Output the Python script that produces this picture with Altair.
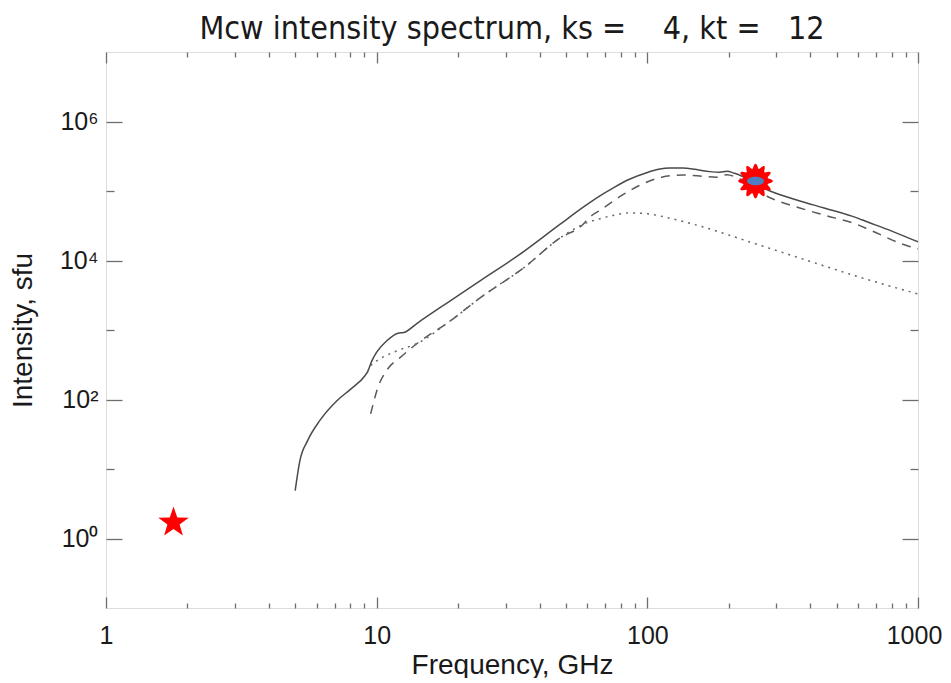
import math
import altair as alt
import pandas as pd

# ---------------- data ----------------
title_text = "Mcw intensity spectrum, ks =\u00a0\u00a0\u00a0 4, kt =\u00a0\u00a0 12"

total_f = [5.0, 5.2, 5.57, 6.17, 7.13, 8.0, 9.05, 9.25, 9.6, 10.0, 10.9, 12.0, 12.6,
           14.1, 18.7, 24.1, 35.0, 47.5, 57.8, 66.8, 74.6, 85.0, 100.0, 110.0, 121.0,
           135.0, 150.0, 170.0, 185.0, 197.0, 210.0, 284.0, 366.0, 450.0, 595.0, 620.0,
           800.0, 1000.0]
total_i = [4.9, 13.0, 26.0, 50.0, 96.0, 140.0, 220.0, 250.0, 360.0, 480.0, 700.0, 900.0, 920.0,
           1250.0, 2630.0, 5100.0, 13500.0, 33000.0, 58000.0, 85000.0, 110000.0, 145000.0,
           185000.0, 205000.0, 215000.0, 214000.0, 205000.0, 190000.0, 186000.0, 192000.0,
           180000.0, 100000.0, 72000.0, 57000.0, 41000.0, 38500.0, 26500.0, 18500.0]

gyro_f = [9.5, 10.1, 11.0, 12.2, 14.1, 18.7, 24.1, 35.0, 47.5, 57.8, 60.4, 68.0, 80.7, 93.0,
          113.0, 135.0, 163.0, 180.0, 197.0, 215.0, 284.0, 366.0, 450.0, 595.0, 664.0,
          918.0, 1000.0]
gyro_i = [62.0, 148.0, 277.0, 400.0, 640.0, 1350.0, 2900.0, 7900.0, 21000.0, 33000.0, 40000.0,
          55000.0, 87000.0, 119000.0, 158000.0, 170000.0, 162000.0, 158000.0, 172000.0,
          155000.0, 80000.0, 57000.0, 45000.0, 33000.0, 27500.0, 16200.0, 14800.0]

ff_f = [9.25, 9.4, 10.0, 11.0, 11.9, 14.1, 18.7, 24.1, 35.0, 47.5, 57.8, 66.8, 74.6, 86.0,
        100.0, 120.0, 156.0, 239.0, 400.0, 600.0, 1000.0]
ff_i = [250.0, 286.0, 360.0, 440.0, 503.0, 640.0, 1350.0, 2900.0, 7900.0, 21000.0, 33000.0,
        40000.0, 44500.0, 48500.0, 47000.0, 41000.0, 31400.0, 18500.0, 9700.0, 5850.0, 3300.0]

star_f = [1.776]
star_i = [1.78]
obs_f = [251.0]
obs_i = [139000.0]

x_major = [1, 10, 100, 1000]
x_minor = [2, 3, 4, 5, 6, 7, 8, 9, 20, 30, 40, 50, 60, 70, 80, 90,
           200, 300, 400, 500, 600, 700, 800, 900]
y_major = [1, 100, 10000, 1000000]
y_minor = [10, 1000, 100000]
y_labels = ["10\u2070", "10\u00b2", "10\u2074", "10\u2076"]

# ---------------- layout / style ----------------
W, H = 812, 556
FONT = "Liberation Sans"
TITLE_FONT = "'Liberation Sans Narrow', 'DejaVu Sans Condensed', 'Liberation Sans', sans-serif"
TXT = "#1a1a1a"
TICK = "#6e6e6e"

xs = alt.Scale(type="log", domain=[1, 1000], nice=False)
ys = alt.Scale(type="log", domain=[0.1, 1e7], nice=False)

ylab_expr = ("datum.value < 10 ? '%s' : datum.value < 1000 ? '%s' : "
             "datum.value < 100000 ? '%s' : '%s'") % tuple(y_labels)


def series(f, i, name):
    return pd.DataFrame({"f": f, "I": i, "series": name})


anchor = pd.DataFrame({"f": [10.0], "I": [10.0]})


def axis_layer(xaxis, yaxis):
    return alt.Chart(anchor).mark_point(opacity=0).encode(
        x=alt.X("f:Q", scale=xs, axis=xaxis),
        y=alt.Y("I:Q", scale=ys, axis=yaxis),
    )


def tick_axis(orient, offset, values, size):
    return alt.Axis(orient=orient, offset=offset, values=values, ticks=True, tickSize=size,
                    tickColor=TICK, tickWidth=1.3, labels=False, domain=False, grid=False,
                    title=None)


main_axes = axis_layer(
    alt.Axis(orient="bottom", values=x_major, format="d", ticks=False, tickSize=0,
             domain=False, grid=False, labelFont=FONT, labelFontSize=25, labelColor=TXT,
             labelPadding=15, labelFlush=False, labelOverlap=False,
             labelOffset={"condition": {"test": "datum.value >= 1000", "value": -4}, "value": 0},
             title="Frequency, GHz", titleFont=FONT, titleFontSize=28,
             titleFontWeight="normal", titleColor=TXT, titlePadding=3),
    alt.Axis(orient="left", values=y_major, labelExpr=ylab_expr, ticks=False, tickSize=0,
             domain=False, grid=False, labelFont=FONT, labelFontSize=25, labelColor=TXT,
             labelPadding=8, labelFlush=False, labelOverlap=False,
             title="Intensity, sfu", titleFont=FONT, titleFontSize=28,
             titleFontWeight="normal", titleColor=TXT, titlePadding=22),
)

ticks_major_in = axis_layer(tick_axis("top", -H, x_major, 11), tick_axis("right", -W, y_major, 16))
ticks_major_out = axis_layer(tick_axis("bottom", -H, x_major, 11), tick_axis("left", -W, y_major, 16))
ticks_minor_in = axis_layer(tick_axis("top", -H, x_minor, 5), tick_axis("right", -W, y_minor, 8))
ticks_minor_out = axis_layer(tick_axis("bottom", -H, x_minor, 5), tick_axis("left", -W, y_minor, 8))


def line_layer(df, color, dash):
    kw = dict(color=color, strokeWidth=1.5, clip=True, interpolate="monotone")
    if dash:
        kw["strokeDash"] = dash
    return alt.Chart(df).mark_line(**kw).encode(
        x=alt.X("f:Q", scale=xs, axis=None),
        y=alt.Y("I:Q", scale=ys, axis=None),
        order="f:Q",
    )


total_line = line_layer(series(total_f, total_i, "total"), "#4a4a4a", None)
gyro_line = line_layer(series(gyro_f, gyro_i, "gyro"), "#5a5a5a", [9, 7])
ff_line = line_layer(series(ff_f, ff_i, "ff"), "#666666", [2, 5])

# marker shapes (normalised to [-1, 1])
pts = []
for k in range(10):
    ang = math.radians(-90 + 36 * k)
    r = 1.0 if k % 2 == 0 else 0.40
    pts.append("%.4f,%.4f" % (r * math.cos(ang), r * math.sin(ang) + 0.095))
star_path = "M" + " L".join(pts) + " Z"

fpts = []
N = 12
for k in range(144):
    ang = 2 * math.pi * k / 144
    r = 0.86 + 0.14 * math.cos(N * ang)
    fpts.append("%.4f,%.4f" % (r * math.cos(ang), r * math.sin(ang)))
flower_path = "M" + " L".join(fpts) + " Z"
ellipse_path = "M-1,0 A1,0.5 0 1,1 1,0 A1,0.5 0 1,1 -1,0 Z"

star_df = pd.DataFrame({"f": star_f, "I": star_i})
obs_df = pd.DataFrame({"f": obs_f, "I": obs_i})


def marker(df, shape, size, color):
    return alt.Chart(df).mark_point(shape=shape, size=size, filled=True, color=color,
                                    opacity=1, strokeWidth=0).encode(
        x=alt.X("f:Q", scale=xs, axis=None),
        y=alt.Y("I:Q", scale=ys, axis=None),
    )


star_mark = marker(star_df, star_path, 1024, "#ff0000")
flower_mark = marker(obs_df, flower_path, 1210, "#ff0000")
ellipse_mark = marker(obs_df, ellipse_path, 290, "#4f7fc0")

chart = alt.layer(
    main_axes, ticks_major_in, ticks_major_out, ticks_minor_in, ticks_minor_out,
    total_line, gyro_line, ff_line, star_mark, flower_mark, ellipse_mark,
).resolve_axis(
    x="independent", y="independent"
).properties(
    width=W, height=H,
    autosize=alt.AutoSizeParams(type="none"),
    padding={"left": 98, "top": 44, "right": 25, "bottom": 70},
    title=alt.TitleParams(text=title_text, font=TITLE_FONT, fontSize=32,
                          fontWeight="normal", color=TXT, anchor="middle", frame="group",
                          offset=5),
).configure_view(
    stroke="#8c8c8c", strokeWidth=1.6
).configure(background="white")

chart.save("out.html", embed_options={"renderer": "svg", "actions": False})
